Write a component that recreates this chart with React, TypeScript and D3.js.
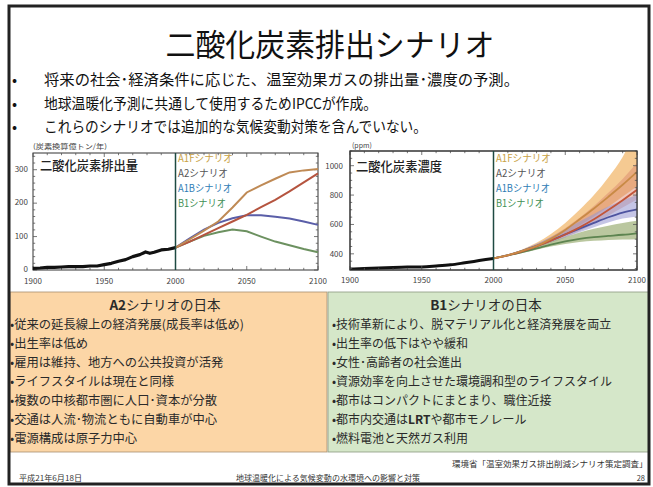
import React from "react";
import * as d3 from "d3";

// ---------- data ----------
const histYears = [1900, 1905, 1910, 1915, 1920, 1925, 1930, 1935, 1940, 1945, 1950, 1955, 1960, 1965, 1970, 1975, 1979, 1982, 1985, 1990, 1995, 2000];
const histEmis = [5, 6, 8, 8, 9, 10, 10, 10, 12, 12, 16, 20, 26, 31, 40, 46, 54, 50, 53, 60, 62, 67];

const scenYears = [2000, 2010, 2020, 2030, 2040, 2050, 2060, 2070, 2080, 2090, 2100];
const a1fEmis = [67, 92, 118, 145, 187, 232, 253, 273, 292, 298, 302];
const a2Emis = [67, 85, 105, 125, 145, 165, 188, 210, 235, 262, 289];
const a1bEmis = [67, 95, 121, 141, 155, 164, 164, 159, 154, 145, 135];
const b1Emis = [67, 85, 102, 113, 121, 116, 100, 85, 74, 63, 53];

const histConcYears = [1900, 1910, 1920, 1930, 1940, 1950, 1960, 1970, 1980, 1990, 2000];
const histConc = [296, 300, 303, 307, 310, 311, 317, 325, 339, 354, 369];

const a1fConc = [369, 391, 420, 454, 502, 563, 635, 709, 788, 870, 958];
const a1fLow = [369, 388, 413, 445, 486, 535, 593, 655, 720, 790, 860];
const a1fHigh = [369, 395, 430, 475, 535, 610, 700, 800, 920, 1060, 1260];
const a2Conc = [369, 390, 417, 451, 490, 532, 580, 635, 698, 765, 836];
const a2Low = [369, 387, 411, 440, 475, 512, 555, 605, 660, 715, 770];
const a2High = [369, 393, 425, 465, 515, 575, 645, 725, 815, 910, 1020];
const a1bConc = [369, 391, 420, 454, 491, 532, 572, 611, 649, 681, 703];
const a1bLow = [369, 388, 413, 443, 476, 512, 547, 581, 613, 640, 655];
const a1bHigh = [369, 394, 428, 468, 515, 568, 620, 672, 722, 765, 800];
const b1Conc = [369, 389, 412, 437, 463, 485, 502, 514, 522, 530, 540];
const b1Low = [369, 386, 406, 428, 450, 467, 480, 489, 495, 498, 500];
const b1High = [369, 392, 420, 450, 483, 515, 545, 570, 592, 610, 625];

const scenarioNames = ["A1Fシナリオ", "A2シナリオ", "A1Bシナリオ", "B1シナリオ"];
const xTickYears = [1900, 1950, 2000, 2050, 2100];
const emisTicks = [0, 100, 200, 300];
const concTicks = [400, 600, 800, 1000];

const bullets = [
  "将来の社会･経済条件に応じた、温室効果ガスの排出量･濃度の予測。",
  "地球温暖化予測に共通して使用するためIPCCが作成。",
  "これらのシナリオでは追加的な気候変動対策を含んでいない。",
];
const a2Lines = [
  "従来の延長線上の経済発展(成長率は低め)",
  "出生率は低め",
  "雇用は維持、地方への公共投資が活発",
  "ライフスタイルは現在と同様",
  "複数の中核都市圏に人口･資本が分散",
  "交通は人流･物流ともに自動車が中心",
  "電源構成は原子力中心",
];
const b1Lines = [
  "技術革新により、脱マテリアル化と経済発展を両立",
  "出生率の低下はやや緩和",
  "女性･高齢者の社会進出",
  "資源効率を向上させた環境調和型のライフスタイル",
  "都市はコンパクトにまとまり、職住近接",
  "都市内交通はLRTや都市モノレール",
  "燃料電池と天然ガス利用",
];

// ---------- styles ----------
const FONT = "'Noto Sans CJK JP', 'Noto Sans', sans-serif";
const legendColors = ["#c9a245", "#555555", "#2f7db5", "#3f8f55"];
const lineColors = ["#bf8a55", "#b5543f", "#5a5ea8", "#6c9160"];
const bandColors = ["#f2b86e", "#d9826a", "#9696d2", "#a3b47f"];
const concLineColors = ["#c98a45", "#c2553a", "#4e54a0", "#5d8450"];

function Ticks({ x, y, xMinor, yMinor, xMajor, yMajor }: any) {
  const [x0, x1] = x.range();
  const [y0, y1] = y.range();
  const items: any[] = [];
  xMinor.forEach((v: number, i: number) => {
    const len = xMajor.includes(v) ? 4 : 2.2;
    const px = x(v);
    items.push(<line key={"xb" + i} x1={px} x2={px} y1={y0} y2={y0 - len} />);
    items.push(<line key={"xt" + i} x1={px} x2={px} y1={y1} y2={y1 + len} />);
  });
  yMinor.forEach((v: number, i: number) => {
    const len = yMajor.includes(v) ? 4 : 2.2;
    const py = y(v);
    items.push(<line key={"yl" + i} x1={x0} x2={x0 + len} y1={py} y2={py} />);
    items.push(<line key={"yr" + i} x1={x1} x2={x1 - len} y1={py} y2={py} />);
  });
  return <g stroke="#555" strokeWidth={0.8}>{items}</g>;
}

function Legend({ x }: { x: number }) {
  const ys = [162, 177, 192, 207];
  const widths = [55, 50, 54, 48];
  return (
    <g fontFamily={FONT} fontSize={10}>
      {scenarioNames.map((n, i) => (
        <text key={n} x={x} y={ys[i]} fill={legendColors[i]} textLength={widths[i]} lengthAdjust="spacingAndGlyphs">
          {n}
        </text>
      ))}
    </g>
  );
}

function EmissionChart() {
  const x = d3.scaleLinear().domain([1900, 2100]).range([33, 318]);
  const y = d3.scaleLinear().domain([0, 350]).range([270, 153]);
  const histPath = d3
    .line<number>()
    .x((_, i) => x(histYears[i]))
    .y((d) => y(d))(histEmis);
  const scen = [a1fEmis, a2Emis, a1bEmis, b1Emis];
  const scenLine = d3
    .line<number>()
    .x((_, i) => x(scenYears[i]))
    .y((d) => y(d));
  return (
    <g>
      <text x={33} y={149} fontFamily={FONT} fontSize={7} fill="#444" textLength={74} lengthAdjust="spacingAndGlyphs">
        (炭素換算億トン/年)
      </text>
      <rect x={33} y={153} width={285} height={117} fill="#fff" stroke="#333" strokeWidth={1} />
      <Ticks
        x={x}
        y={y}
        xMinor={d3.range(1900, 2101, 10)}
        xMajor={xTickYears}
        yMinor={d3.range(0, 351, 20)}
        yMajor={emisTicks}
      />
      <text x={40} y={170} fontFamily={FONT} fontSize={13} fontWeight={500} fill="#222" textLength={98} lengthAdjust="spacingAndGlyphs">
        二酸化炭素排出量
      </text>
      {[3, 2, 1, 0].map((k) => (
        <path key={k} d={scenLine(scen[k]) || ""} fill="none" stroke={lineColors[k]} strokeWidth={2} />
      ))}
      <path d={histPath || ""} fill="none" stroke="#111" strokeWidth={3.2} strokeLinejoin="round" />
      <line x1={x(2000)} x2={x(2000)} y1={153} y2={270} stroke="#1e4a42" strokeWidth={1.5} />
      <Legend x={178} />
      <g fontFamily={FONT} fontSize={8} fill="#444">
        {emisTicks.map((t) => (
          <text key={t} x={28} y={y(t) + 2} textAnchor="end">
            {t}
          </text>
        ))}
        {xTickYears.map((t) => (
          <text key={t} x={x(t)} y={284} textAnchor="middle">
            {t}
          </text>
        ))}
      </g>
    </g>
  );
}

function ConcentrationChart() {
  const x = d3.scaleLinear().domain([1900, 2100]).range([350, 637]);
  const y = d3.scaleLinear().domain([290, 1100]).range([270, 151]);
  const histPath = d3
    .line<number>()
    .x((_, i) => x(histConcYears[i]))
    .y((d) => y(d))
    .curve(d3.curveMonotoneX)(histConc);
  const lineGen = d3
    .line<number>()
    .x((_, i) => x(scenYears[i]))
    .y((d) => y(d))
    .curve(d3.curveMonotoneX);
  const areaGen = (lo: number[], hi: number[]) =>
    d3
      .area<number>()
      .x((_, i) => x(scenYears[i]))
      .y0((_, i) => y(lo[i]))
      .y1((_, i) => y(hi[i]))
      .curve(d3.curveMonotoneX)(lo.map((_, i) => i) as any) || "";
  const bands = [
    [a1fLow, a1fHigh],
    [a2Low, a2High],
    [a1bLow, a1bHigh],
    [b1Low, b1High],
  ];
  const centers = [a1fConc, a2Conc, a1bConc, b1Conc];
  const bandOpacity = [0.75, 0.45, 0.55, 0.75];
  return (
    <g>
      <defs>
        <clipPath id="concClip">
          <rect x={350} y={151} width={287} height={119} />
        </clipPath>
      </defs>
      <text x={352} y={148} fontFamily={FONT} fontSize={7} fill="#444">
        (ppm)
      </text>
      <rect x={350} y={151} width={287} height={119} fill="#fff" stroke="#333" strokeWidth={1} />
      <g clipPath="url(#concClip)">
        {bands.map((b, k) => (
          <path key={"b" + k} d={areaGen(b[0], b[1])} fill={bandColors[k]} fillOpacity={bandOpacity[k]} stroke="none" />
        ))}
        {[3, 2, 1, 0].map((k) => (
          <path key={"l" + k} d={lineGen(centers[k]) || ""} fill="none" stroke={concLineColors[k]} strokeWidth={1.8} />
        ))}
        <path d={histPath || ""} fill="none" stroke="#111" strokeWidth={3} />
      </g>
      <Ticks
        x={x}
        y={y}
        xMinor={d3.range(1900, 2101, 10)}
        xMajor={xTickYears}
        yMinor={d3.range(300, 1101, 50)}
        yMajor={concTicks}
      />
      <rect x={350} y={151} width={287} height={119} fill="none" stroke="#333" strokeWidth={1} />
      <text x={356} y={171} fontFamily={FONT} fontSize={13} fontWeight={500} fill="#222" textLength={86} lengthAdjust="spacingAndGlyphs">
        二酸化炭素濃度
      </text>
      <line x1={x(2000)} x2={x(2000)} y1={151} y2={270} stroke="#1e4a42" strokeWidth={1.5} />
      <Legend x={496} />
      <g fontFamily={FONT} fontSize={8} fill="#444">
        {concTicks.map((t) => (
          <text key={t} x={343} y={y(t) + 3} textAnchor="end">
            {t}
          </text>
        ))}
        {xTickYears.map((t) => (
          <text key={t} x={x(t)} y={283} textAnchor="middle">
            {t}
          </text>
        ))}
      </g>
    </g>
  );
}

export default function App() {
  const bulletY = [85, 109, 132];
  const bulletW = [475, 333, 383];
  const lineY = [329, 348, 367, 386, 405, 424, 443];
  return (
    <svg
      width={653}
      height={487}
      viewBox="0 0 653 487"
      style={{ position: "absolute", left: 0, top: 0, background: "#fff" }}
    >
      <rect x={0} y={0} width={653} height={487} fill="#fff" />
      {/* title */}
      <text x={330} y={56} textAnchor="middle" fontFamily={FONT} fontSize={31} fill="#111" textLength={329} lengthAdjust="spacingAndGlyphs">
        二酸化炭素排出シナリオ
      </text>
      {/* bullets */}
      <g fontFamily={FONT} fontSize={15} fill="#111">
        {bullets.map((b, i) => (
          <g key={i}>
            <text x={12} y={bulletY[i]}>•</text>
            <text x={44} y={bulletY[i]} textLength={bulletW[i]} lengthAdjust="spacingAndGlyphs">
              {b}
            </text>
          </g>
        ))}
      </g>
      <EmissionChart />
      <ConcentrationChart />
      {/* lower panels */}
      <rect x={10} y={292} width={317} height={160} fill="#fcd6a6" stroke="#a89070" strokeWidth={0.8} />
      <rect x={328} y={292} width={321} height={160} fill="#d5e7c9" stroke="#8a9a80" strokeWidth={0.8} />
      <g fontFamily={FONT} fill="#2a2a2a">
        <text x={165} y={310} textAnchor="middle" fontSize={13.5}>
          <tspan fontWeight={700}>A2</tspan>シナリオの日本
        </text>
        <text x={486} y={310} textAnchor="middle" fontSize={13.5}>
          <tspan fontWeight={700}>B1</tspan>シナリオの日本
        </text>
        {a2Lines.map((t, i) => (
          <text key={"a" + i} x={10} y={lineY[i]} fontSize={12.3}>
            •{t}
          </text>
        ))}
        {b1Lines.map((t, i) => (
          <text key={"b" + i} x={332} y={lineY[i]} fontSize={12}>
            •
            {t.includes("LRT") ? (
              <>
                都市内交通は<tspan fontWeight={700}>LRT</tspan>や都市モノレール
              </>
            ) : (
              t
            )}
          </text>
        ))}
      </g>
      {/* citation and footer */}
      <text x={452} y={467} fontFamily={FONT} fontSize={8.5} fill="#333">
        環境省「温室効果ガス排出削減シナリオ策定調査」
      </text>
      <g fontFamily={FONT} fontSize={7.5} fill="#333">
        <text x={19} y={481} textLength={63} lengthAdjust="spacingAndGlyphs">平成21年6月18日</text>
        <text x={236} y={481} textLength={184} lengthAdjust="spacingAndGlyphs">地球温暖化による気候変動の水環境への影響と対策</text>
        <text x={645} y={481} textAnchor="end">28</text>
      </g>
      {/* slide frame */}
      <rect x={9} y={6} width={640} height={478} fill="none" stroke="#222" strokeWidth={3} />
    </svg>
  );
}
